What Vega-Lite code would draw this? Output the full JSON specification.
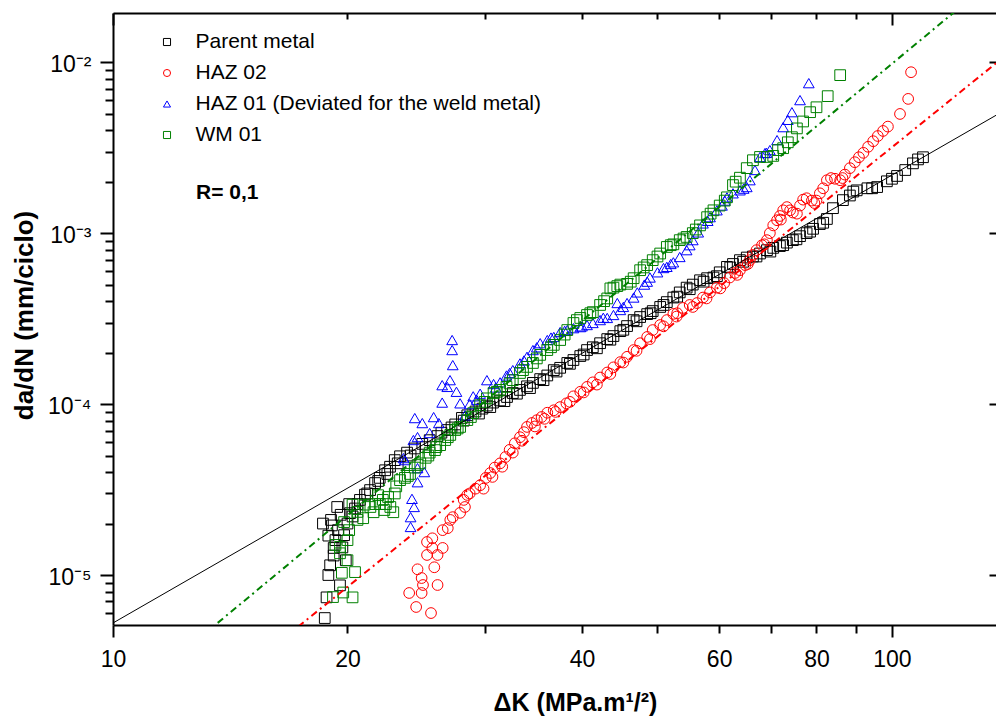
{
  "$schema": "https://vega.github.io/schema/vega-lite/v6.json",
  "width": 883,
  "height": 612,
  "autosize": {"type": "none"},
  "padding": {"left": 113, "top": 13, "right": 0, "bottom": 91},
  "background": "white",
  "config": {
    "view": {"stroke": null},
    "font": "Liberation Sans",
    "axis": {"labelFont": "Liberation Sans", "titleFont": "Liberation Sans", "domainColor": "black", "tickColor": "black", "labelColor": "black", "titleColor": "black", "grid": false, "domainWidth": 2, "tickWidth": 2}
  },
  "layer": [
    {
      "data": {"values": [
        {"s":"P","x":18.7,"y":5.6e-6},{"s":"P","x":18.8,"y":7.4e-6},{"s":"P","x":18.9,"y":1.0e-5},{"s":"P","x":19.0,"y":1.14e-5},{"s":"P","x":19.2,"y":1.44e-5},{"s":"P","x":18.6,"y":2.0e-5},{"s":"P","x":19.05,"y":2.1e-5},{"s":"P","x":19.4,"y":2.5e-5},{"s":"P","x":20.1,"y":2.6e-5},{"s":"P","x":19.45,"y":1.83e-5},{"s":"P","x":19.8,"y":1.71e-5},{"s":"P","x":19.3,"y":1.6e-5},{"s":"P","x":19.9,"y":1.22e-5},{"s":"P","x":19.56,"y":8.7e-6},{"s":"P","x":19.2,"y":1.3e-5},{"s":"P","x":19.1,"y":1.95e-5},{"s":"P","x":19.6,"y":2.25e-5},{"s":"P","x":18.9,"y":1.7e-5},{"s":"P","x":19.7,"y":1.45e-5},{"s":"P","x":20.0,"y":2.0e-5},{"s":"P","x":20.3,"y":2.2e-5},
        {"s":"P","x":20.15,"y":2.3e-5},{"s":"P","x":20.45,"y":2.45e-5},{"s":"P","x":20.75,"y":2.75e-5},{"s":"P","x":21.06,"y":2.95e-5},{"s":"P","x":21.38,"y":3.14e-5},{"s":"P","x":21.7,"y":3.45e-5},{"s":"P","x":22.0,"y":3.7e-5},{"s":"P","x":22.35,"y":4.1e-5},{"s":"P","x":22.68,"y":4.3e-5},{"s":"P","x":23.0,"y":4.7e-5},{"s":"P","x":23.36,"y":4.95e-5},{"s":"P","x":23.85,"y":5.2e-5},{"s":"P","x":24.4,"y":5.5e-5},{"s":"P","x":24.95,"y":5.85e-5},{"s":"P","x":25.5,"y":6.15e-5},{"s":"P","x":26.1,"y":6.5e-5},{"s":"P","x":26.85,"y":7.05e-5},{"s":"P","x":27.5,"y":7.6e-5},{"s":"P","x":28.05,"y":8.3e-5},{"s":"P","x":28.5,"y":8.6e-5},{"s":"P","x":29.2,"y":9.05e-5},{"s":"P","x":29.8,"y":9.4e-5},{"s":"P","x":30.2,"y":9.8e-5},{"s":"P","x":30.75,"y":1.02e-4},{"s":"P","x":31.4,"y":1.05e-4},{"s":"P","x":32.05,"y":1.1e-4},{"s":"P","x":32.6,"y":1.16e-4},{"s":"P","x":33.3,"y":1.21e-4},{"s":"P","x":34.0,"y":1.27e-4},{"s":"P","x":34.6,"y":1.33e-4},{"s":"P","x":35.35,"y":1.4e-4},{"s":"P","x":36.1,"y":1.47e-4},{"s":"P","x":36.8,"y":1.58e-4},{"s":"P","x":37.5,"y":1.63e-4},{"s":"P","x":38.3,"y":1.74e-4},{"s":"P","x":39.0,"y":1.81e-4},{"s":"P","x":39.8,"y":1.91e-4},{"s":"P","x":40.6,"y":2.07e-4},{"s":"P","x":41.3,"y":2.15e-4},{"s":"P","x":42.2,"y":2.27e-4},{"s":"P","x":43.1,"y":2.4e-4},{"s":"P","x":43.9,"y":2.5e-4},{"s":"P","x":44.8,"y":2.67e-4},{"s":"P","x":45.7,"y":2.86e-4},{"s":"P","x":46.6,"y":3.1e-4},{"s":"P","x":47.5,"y":3.23e-4},{"s":"P","x":48.5,"y":3.36e-4},{"s":"P","x":49.3,"y":3.5e-4},{"s":"P","x":50.4,"y":3.7e-4},{"s":"P","x":51.4,"y":3.95e-4},{"s":"P","x":52.4,"y":4.2e-4},{"s":"P","x":53.4,"y":4.5e-4},{"s":"P","x":54.5,"y":4.8e-4},{"s":"P","x":55.5,"y":5.0e-4},{"s":"P","x":56.7,"y":5.3e-4},{"s":"P","x":57.9,"y":5.45e-4},{"s":"P","x":59.0,"y":5.5e-4},{"s":"P","x":60.1,"y":5.9e-4},{"s":"P","x":61.4,"y":6.35e-4},{"s":"P","x":62.5,"y":6.6e-4},{"s":"P","x":63.8,"y":6.95e-4},{"s":"P","x":65.1,"y":7.2e-4},{"s":"P","x":66.3,"y":7.3e-4},{"s":"P","x":67.7,"y":7.6e-4},{"s":"P","x":69.1,"y":7.95e-4},{"s":"P","x":70.4,"y":8.2e-4},{"s":"P","x":71.8,"y":8.4e-4},{"s":"P","x":73.3,"y":8.8e-4},{"s":"P","x":74.6,"y":9.1e-4},{"s":"P","x":76.2,"y":9.6e-4},{"s":"P","x":77.7,"y":1.0e-3},{"s":"P","x":79.2,"y":1.06e-3},{"s":"P","x":80.8,"y":1.13e-3},{"s":"P","x":82.5,"y":1.21e-3},{"s":"P","x":84.0,"y":1.4e-3},{"s":"P","x":86.5,"y":1.56e-3},{"s":"P","x":88.3,"y":1.66e-3},{"s":"P","x":90.1,"y":1.78e-3},{"s":"P","x":93.0,"y":1.83e-3},{"s":"P","x":95.7,"y":1.86e-3},{"s":"P","x":98.5,"y":2.01e-3},{"s":"P","x":101.5,"y":2.16e-3},{"s":"P","x":104.0,"y":2.34e-3},{"s":"P","x":106.4,"y":2.56e-3},{"s":"P","x":109.6,"y":2.78e-3},
        {"s":"P","x":20.6,"y":2.6e-5},{"s":"P","x":21.2,"y":3.0e-5},{"s":"P","x":21.9,"y":3.55e-5},{"s":"P","x":22.5,"y":3.9e-5},{"s":"P","x":23.2,"y":4.5e-5},{"s":"P","x":24.1,"y":5.0e-5},{"s":"P","x":25.2,"y":5.6e-5},{"s":"P","x":26.4,"y":6.8e-5},{"s":"P","x":27.2,"y":7.3e-5},{"s":"P","x":28.2,"y":8.0e-5},{"s":"P","x":29.5,"y":8.8e-5},{"s":"P","x":30.5,"y":9.6e-5},{"s":"P","x":31.8,"y":1.04e-4},{"s":"P","x":33.0,"y":1.15e-4},{"s":"P","x":34.3,"y":1.24e-4},{"s":"P","x":35.7,"y":1.38e-4},{"s":"P","x":37.1,"y":1.55e-4},{"s":"P","x":38.6,"y":1.72e-4},{"s":"P","x":40.2,"y":1.95e-4},{"s":"P","x":41.8,"y":2.12e-4},{"s":"P","x":43.5,"y":2.38e-4},{"s":"P","x":45.2,"y":2.72e-4},{"s":"P","x":47.0,"y":3.05e-4},{"s":"P","x":49.0,"y":3.4e-4},{"s":"P","x":50.9,"y":3.8e-4},{"s":"P","x":53.0,"y":4.25e-4},{"s":"P","x":55.0,"y":4.7e-4},{"s":"P","x":57.3,"y":5.2e-4},{"s":"P","x":59.6,"y":5.6e-4},{"s":"P","x":62.0,"y":6.3e-4},{"s":"P","x":64.4,"y":6.8e-4},{"s":"P","x":67.0,"y":7.3e-4},{"s":"P","x":69.8,"y":7.8e-4},{"s":"P","x":72.5,"y":8.5e-4},{"s":"P","x":75.4,"y":9.2e-4},{"s":"P","x":78.5,"y":1.02e-3},{"s":"P","x":81.6,"y":1.15e-3},{"s":"P","x":89.2,"y":1.75e-3},{"s":"P","x":94.3,"y":1.83e-3},{"s":"P","x":100.0,"y":2.08e-3},{"s":"P","x":108.0,"y":2.7e-3},
        {"s":"H2","x":24.0,"y":7.85e-6},{"s":"H2","x":24.5,"y":6.5e-6},{"s":"H2","x":25.6,"y":5.99e-6},{"s":"H2","x":24.9,"y":7.85e-6},{"s":"H2","x":25.0,"y":8.74e-6},{"s":"H2","x":26.1,"y":8.74e-6},{"s":"H2","x":24.9,"y":9.6e-6},{"s":"H2","x":24.6,"y":1.08e-5},{"s":"H2","x":25.85,"y":1.11e-5},{"s":"H2","x":25.3,"y":1.31e-5},{"s":"H2","x":26.1,"y":1.31e-5},{"s":"H2","x":25.7,"y":1.44e-5},{"s":"H2","x":26.5,"y":1.44e-5},{"s":"H2","x":25.3,"y":1.56e-5},{"s":"H2","x":25.7,"y":1.64e-5},{"s":"H2","x":26.5,"y":1.83e-5},{"s":"H2","x":26.9,"y":1.88e-5},{"s":"H2","x":27.1,"y":2.1e-5},{"s":"H2","x":27.3,"y":2.18e-5},{"s":"H2","x":27.9,"y":2.31e-5},{"s":"H2","x":28.3,"y":2.5e-5},{"s":"H2","x":28.2,"y":2.75e-5},{"s":"H2","x":28.5,"y":2.94e-5},
        {"s":"H2","x":28.7,"y":3.0e-5},{"s":"H2","x":29.2,"y":3.2e-5},{"s":"H2","x":29.6,"y":3.35e-5},{"s":"H2","x":30.1,"y":3.7e-5},{"s":"H2","x":30.5,"y":3.95e-5},{"s":"H2","x":30.9,"y":4.25e-5},{"s":"H2","x":31.4,"y":4.5e-5},{"s":"H2","x":31.9,"y":4.9e-5},{"s":"H2","x":32.3,"y":5.4e-5},{"s":"H2","x":32.8,"y":5.9e-5},{"s":"H2","x":33.3,"y":6.4e-5},{"s":"H2","x":33.7,"y":6.85e-5},{"s":"H2","x":34.0,"y":7.35e-5},{"s":"H2","x":34.5,"y":7.75e-5},{"s":"H2","x":35.0,"y":8.05e-5},{"s":"H2","x":35.5,"y":8.4e-5},{"s":"H2","x":36.1,"y":8.9e-5},{"s":"H2","x":36.8,"y":9.2e-5},{"s":"H2","x":37.5,"y":9.6e-5},{"s":"H2","x":38.2,"y":1.01e-4},{"s":"H2","x":39.0,"y":1.11e-4},{"s":"H2","x":39.8,"y":1.18e-4},{"s":"H2","x":40.6,"y":1.26e-4},{"s":"H2","x":41.3,"y":1.34e-4},{"s":"H2","x":42.2,"y":1.43e-4},{"s":"H2","x":43.1,"y":1.53e-4},{"s":"H2","x":43.9,"y":1.64e-4},{"s":"H2","x":44.8,"y":1.76e-4},{"s":"H2","x":45.7,"y":1.89e-4},{"s":"H2","x":46.6,"y":2.07e-4},{"s":"H2","x":47.5,"y":2.27e-4},{"s":"H2","x":48.5,"y":2.47e-4},{"s":"H2","x":49.3,"y":2.71e-4},{"s":"H2","x":50.4,"y":2.9e-4},{"s":"H2","x":51.4,"y":3.1e-4},{"s":"H2","x":52.4,"y":3.37e-4},{"s":"H2","x":53.0,"y":3.4e-4},{"s":"H2","x":53.9,"y":3.65e-4},{"s":"H2","x":55.0,"y":3.8e-4},{"s":"H2","x":56.2,"y":3.9e-4},{"s":"H2","x":57.2,"y":4.2e-4},{"s":"H2","x":58.4,"y":4.5e-4},{"s":"H2","x":59.6,"y":4.8e-4},{"s":"H2","x":60.9,"y":5.1e-4},{"s":"H2","x":61.9,"y":5.5e-4},{"s":"H2","x":62.9,"y":5.85e-4},{"s":"H2","x":63.8,"y":6.07e-4},{"s":"H2","x":64.8,"y":6.5e-4},{"s":"H2","x":65.7,"y":6.95e-4},{"s":"H2","x":66.3,"y":7.45e-4},{"s":"H2","x":67.0,"y":7.95e-4},{"s":"H2","x":68.1,"y":8.5e-4},{"s":"H2","x":69.1,"y":9.1e-4},{"s":"H2","x":69.7,"y":1.0e-3},{"s":"H2","x":70.4,"y":1.11e-3},{"s":"H2","x":71.2,"y":1.19e-3},{"s":"H2","x":71.8,"y":1.26e-3},{"s":"H2","x":72.5,"y":1.36e-3},{"s":"H2","x":73.3,"y":1.42e-3},{"s":"H2","x":74.0,"y":1.36e-3},{"s":"H2","x":74.6,"y":1.32e-3},{"s":"H2","x":75.5,"y":1.3e-3},{"s":"H2","x":76.2,"y":1.45e-3},{"s":"H2","x":76.9,"y":1.57e-3},{"s":"H2","x":77.7,"y":1.6e-3},{"s":"H2","x":78.9,"y":1.55e-3},{"s":"H2","x":80.0,"y":1.55e-3},{"s":"H2","x":80.8,"y":1.71e-3},{"s":"H2","x":81.6,"y":1.83e-3},{"s":"H2","x":82.5,"y":2.04e-3},{"s":"H2","x":83.5,"y":2.1e-3},{"s":"H2","x":84.5,"y":2.08e-3},{"s":"H2","x":85.8,"y":2.04e-3},{"s":"H2","x":87.0,"y":2.2e-3},{"s":"H2","x":88.3,"y":2.4e-3},{"s":"H2","x":89.6,"y":2.6e-3},{"s":"H2","x":90.7,"y":2.78e-3},{"s":"H2","x":91.9,"y":2.95e-3},{"s":"H2","x":93.2,"y":3.2e-3},{"s":"H2","x":94.6,"y":3.45e-3},{"s":"H2","x":95.9,"y":3.7e-3},{"s":"H2","x":97.4,"y":3.96e-3},{"s":"H2","x":98.8,"y":4.2e-3},{"s":"H2","x":102.4,"y":4.98e-3},{"s":"H2","x":104.9,"y":6.1e-3},{"s":"H2","x":105.8,"y":8.74e-3},
        {"s":"H2","x":29.9,"y":3.2e-5},{"s":"H2","x":30.7,"y":3.75e-5},{"s":"H2","x":31.6,"y":4.3e-5},{"s":"H2","x":32.6,"y":5.2e-5},{"s":"H2","x":33.5,"y":6.1e-5},{"s":"H2","x":34.8,"y":7.4e-5},{"s":"H2","x":35.8,"y":8.2e-5},{"s":"H2","x":37.0,"y":9.0e-5},{"s":"H2","x":38.6,"y":1.03e-4},{"s":"H2","x":40.2,"y":1.17e-4},{"s":"H2","x":41.8,"y":1.3e-4},{"s":"H2","x":43.5,"y":1.5e-4},{"s":"H2","x":45.2,"y":1.75e-4},{"s":"H2","x":47.0,"y":2.05e-4},{"s":"H2","x":48.9,"y":2.4e-4},{"s":"H2","x":50.9,"y":2.85e-4},{"s":"H2","x":52.9,"y":3.25e-4},{"s":"H2","x":55.5,"y":3.7e-4},{"s":"H2","x":57.8,"y":4.15e-4},{"s":"H2","x":60.2,"y":4.75e-4},{"s":"H2","x":63.3,"y":5.7e-4},{"s":"H2","x":65.3,"y":6.6e-4},{"s":"H2","x":68.6,"y":8.6e-4},{"s":"H2","x":72.0,"y":1.2e-3},{"s":"H2","x":79.5,"y":1.5e-3},{"s":"H2","x":86.4,"y":2.1e-3},
        {"s":"H1","x":24.1,"y":1.91e-5},{"s":"H1","x":24.1,"y":2.18e-5},{"s":"H1","x":24.35,"y":2.5e-5},{"s":"H1","x":24.2,"y":2.79e-5},{"s":"H1","x":24.6,"y":3.49e-5},{"s":"H1","x":25.1,"y":4.0e-5},{"s":"H1","x":23.7,"y":4.7e-5},{"s":"H1","x":24.6,"y":4.22e-5},{"s":"H1","x":23.6,"y":4.83e-5},{"s":"H1","x":24.3,"y":6.16e-5},{"s":"H1","x":24.6,"y":6.41e-5},{"s":"H1","x":25.5,"y":6.77e-5},{"s":"H1","x":24.4,"y":8.28e-5},{"s":"H1","x":24.95,"y":7.74e-5},{"s":"H1","x":25.8,"y":8.39e-5},{"s":"H1","x":26.2,"y":7.74e-5},{"s":"H1","x":26.46,"y":1.02e-4},{"s":"H1","x":26.46,"y":1.29e-4},{"s":"H1","x":26.86,"y":1.26e-4},{"s":"H1","x":27.08,"y":1.38e-4},{"s":"H1","x":27.6,"y":1.18e-4},{"s":"H1","x":27.3,"y":1.69e-4},{"s":"H1","x":27.25,"y":2.07e-4},{"s":"H1","x":27.25,"y":2.37e-4},{"s":"H1","x":27.9,"y":1.01e-4},
        {"s":"H1","x":28.3,"y":8.6e-5},{"s":"H1","x":29.0,"y":1.11e-4},{"s":"H1","x":29.6,"y":1.15e-4},{"s":"H1","x":30.2,"y":1.38e-4},{"s":"H1","x":30.8,"y":1.31e-4},{"s":"H1","x":31.4,"y":1.34e-4},{"s":"H1","x":32.0,"y":1.47e-4},{"s":"H1","x":32.6,"y":1.58e-4},{"s":"H1","x":33.3,"y":1.73e-4},{"s":"H1","x":34.0,"y":1.89e-4},{"s":"H1","x":34.6,"y":2.07e-4},{"s":"H1","x":35.35,"y":2.27e-4},{"s":"H1","x":36.1,"y":2.37e-4},{"s":"H1","x":36.8,"y":2.47e-4},{"s":"H1","x":37.5,"y":2.64e-4},{"s":"H1","x":38.3,"y":2.71e-4},{"s":"H1","x":39.0,"y":2.78e-4},{"s":"H1","x":39.8,"y":2.82e-4},{"s":"H1","x":40.6,"y":2.9e-4},{"s":"H1","x":41.3,"y":2.98e-4},{"s":"H1","x":42.2,"y":3.1e-4},{"s":"H1","x":43.1,"y":3.19e-4},{"s":"H1","x":43.9,"y":3.32e-4},{"s":"H1","x":44.4,"y":3.9e-4},{"s":"H1","x":44.8,"y":3.55e-4},{"s":"H1","x":45.7,"y":3.9e-4},{"s":"H1","x":46.6,"y":4.2e-4},{"s":"H1","x":47.1,"y":4.5e-4},{"s":"H1","x":48.1,"y":5.0e-4},{"s":"H1","x":48.9,"y":5.5e-4},{"s":"H1","x":50.0,"y":5.9e-4},{"s":"H1","x":50.9,"y":6.25e-4},{"s":"H1","x":51.4,"y":6.35e-4},{"s":"H1","x":52.4,"y":6.75e-4},{"s":"H1","x":53.4,"y":7.25e-4},{"s":"H1","x":54.5,"y":7.95e-4},{"s":"H1","x":55.5,"y":9.1e-4},{"s":"H1","x":56.4,"y":1.01e-3},{"s":"H1","x":57.2,"y":1.14e-3},{"s":"H1","x":58.4,"y":1.24e-3},{"s":"H1","x":59.6,"y":1.36e-3},{"s":"H1","x":60.5,"y":1.45e-3},{"s":"H1","x":61.4,"y":1.62e-3},{"s":"H1","x":62.5,"y":1.71e-3},{"s":"H1","x":63.8,"y":1.78e-3},{"s":"H1","x":65.1,"y":1.86e-3},{"s":"H1","x":65.7,"y":2.04e-3},{"s":"H1","x":66.7,"y":2.34e-3},{"s":"H1","x":67.7,"y":2.79e-3},{"s":"H1","x":68.7,"y":2.94e-3},{"s":"H1","x":69.7,"y":3.06e-3},{"s":"H1","x":71.2,"y":3.5e-3},{"s":"H1","x":72.5,"y":4.17e-3},{"s":"H1","x":74.4,"y":5.1e-3},{"s":"H1","x":76.2,"y":6.0e-3},{"s":"H1","x":78.2,"y":7.54e-3},
        {"s":"H1","x":28.7,"y":1.0e-4},{"s":"H1","x":29.3,"y":1.06e-4},{"s":"H1","x":31.0,"y":1.25e-4},{"s":"H1","x":32.3,"y":1.52e-4},{"s":"H1","x":33.7,"y":1.8e-4},{"s":"H1","x":35.0,"y":2.15e-4},{"s":"H1","x":36.5,"y":2.45e-4},{"s":"H1","x":38.0,"y":2.68e-4},{"s":"H1","x":40.0,"y":2.85e-4},{"s":"H1","x":42.6,"y":3.2e-4},{"s":"H1","x":45.2,"y":3.7e-4},{"s":"H1","x":48.5,"y":5.2e-4},{"s":"H1","x":52.0,"y":6.6e-4},{"s":"H1","x":55.0,"y":8.5e-4},{"s":"H1","x":58.0,"y":1.18e-3},{"s":"H1","x":61.0,"y":1.55e-3},{"s":"H1","x":64.5,"y":1.82e-3},{"s":"H1","x":69.0,"y":2.95e-3},{"s":"H1","x":73.5,"y":4.6e-3},
        {"s":"W","x":19.16,"y":7.43e-6},{"s":"W","x":19.75,"y":7.9e-6},{"s":"W","x":20.3,"y":7.4e-6},{"s":"W","x":19.67,"y":1.03e-5},{"s":"W","x":20.45,"y":1.04e-5},{"s":"W","x":19.56,"y":1.34e-5},{"s":"W","x":20.0,"y":1.22e-5},{"s":"W","x":19.56,"y":1.46e-5},{"s":"W","x":20.0,"y":1.6e-5},{"s":"W","x":19.3,"y":1.5e-5},{"s":"W","x":20.1,"y":1.83e-5},{"s":"W","x":19.8,"y":2.04e-5},{"s":"W","x":20.6,"y":2.1e-5},{"s":"W","x":20.95,"y":2.15e-5},{"s":"W","x":20.3,"y":2.58e-5},{"s":"W","x":20.6,"y":2.34e-5},{"s":"W","x":21.05,"y":2.58e-5},{"s":"W","x":21.4,"y":2.5e-5},{"s":"W","x":21.7,"y":2.6e-5},{"s":"W","x":22.0,"y":2.6e-5},{"s":"W","x":22.3,"y":2.4e-5},{"s":"W","x":22.7,"y":2.5e-5},{"s":"W","x":22.9,"y":2.33e-5},{"s":"W","x":21.6,"y":2.33e-5},{"s":"W","x":22.2,"y":2.75e-5},{"s":"W","x":21.9,"y":2.93e-5},{"s":"W","x":22.55,"y":2.86e-5},{"s":"W","x":23.0,"y":3.0e-5},
        {"s":"W","x":23.36,"y":3.59e-5},{"s":"W","x":23.7,"y":3.7e-5},{"s":"W","x":24.06,"y":3.9e-5},{"s":"W","x":24.4,"y":4.25e-5},{"s":"W","x":24.8,"y":4.5e-5},{"s":"W","x":25.2,"y":4.85e-5},{"s":"W","x":25.5,"y":5.2e-5},{"s":"W","x":25.9,"y":5.38e-5},{"s":"W","x":26.3,"y":5.75e-5},{"s":"W","x":26.7,"y":6.16e-5},{"s":"W","x":27.1,"y":6.6e-5},{"s":"W","x":27.5,"y":7.05e-5},{"s":"W","x":27.9,"y":7.35e-5},{"s":"W","x":28.5,"y":8.06e-5},{"s":"W","x":29.0,"y":8.85e-5},{"s":"W","x":29.6,"y":9.85e-5},{"s":"W","x":30.2,"y":1.08e-4},{"s":"W","x":30.8,"y":1.16e-4},{"s":"W","x":31.4,"y":1.21e-4},{"s":"W","x":32.0,"y":1.26e-4},{"s":"W","x":32.6,"y":1.38e-4},{"s":"W","x":33.3,"y":1.52e-4},{"s":"W","x":34.0,"y":1.65e-4},{"s":"W","x":34.6,"y":1.74e-4},{"s":"W","x":35.35,"y":1.94e-4},{"s":"W","x":36.1,"y":2.07e-4},{"s":"W","x":36.8,"y":2.22e-4},{"s":"W","x":37.5,"y":2.37e-4},{"s":"W","x":38.3,"y":2.71e-4},{"s":"W","x":39.0,"y":2.98e-4},{"s":"W","x":39.8,"y":3.19e-4},{"s":"W","x":40.6,"y":3.32e-4},{"s":"W","x":41.3,"y":3.45e-4},{"s":"W","x":42.2,"y":3.8e-4},{"s":"W","x":43.1,"y":4.15e-4},{"s":"W","x":43.5,"y":4.75e-4},{"s":"W","x":43.9,"y":4.8e-4},{"s":"W","x":44.8,"y":5.0e-4},{"s":"W","x":45.7,"y":5.05e-4},{"s":"W","x":46.6,"y":5.45e-4},{"s":"W","x":47.5,"y":6.07e-4},{"s":"W","x":48.5,"y":6.5e-4},{"s":"W","x":49.3,"y":6.95e-4},{"s":"W","x":50.4,"y":7.6e-4},{"s":"W","x":51.4,"y":8.3e-4},{"s":"W","x":52.4,"y":8.6e-4},{"s":"W","x":53.4,"y":9.1e-4},{"s":"W","x":54.5,"y":9.5e-4},{"s":"W","x":55.5,"y":1.0e-3},{"s":"W","x":56.7,"y":1.11e-3},{"s":"W","x":57.9,"y":1.24e-3},{"s":"W","x":59.0,"y":1.36e-3},{"s":"W","x":60.1,"y":1.45e-3},{"s":"W","x":61.4,"y":1.62e-3},{"s":"W","x":62.5,"y":1.91e-3},{"s":"W","x":63.8,"y":2.11e-3},{"s":"W","x":65.1,"y":2.4e-3},{"s":"W","x":66.3,"y":2.67e-3},{"s":"W","x":67.7,"y":2.79e-3},{"s":"W","x":69.1,"y":2.79e-3},{"s":"W","x":70.4,"y":2.83e-3},{"s":"W","x":71.4,"y":3.06e-3},{"s":"W","x":72.5,"y":3.14e-3},{"s":"W","x":73.5,"y":3.4e-3},{"s":"W","x":74.4,"y":3.64e-3},{"s":"W","x":75.5,"y":4.1e-3},{"s":"W","x":76.9,"y":4.5e-3},{"s":"W","x":78.5,"y":5.1e-3},{"s":"W","x":80.0,"y":5.45e-3},{"s":"W","x":82.7,"y":6.33e-3},{"s":"W","x":85.8,"y":8.4e-3},
        {"s":"W","x":22.4,"y":2.6e-5},{"s":"W","x":23.1,"y":3.3e-5},{"s":"W","x":23.9,"y":3.8e-5},{"s":"W","x":24.6,"y":4.4e-5},{"s":"W","x":25.4,"y":5.0e-5},{"s":"W","x":26.0,"y":5.6e-5},{"s":"W","x":26.9,"y":6.4e-5},{"s":"W","x":27.7,"y":7.2e-5},{"s":"W","x":28.8,"y":8.4e-5},{"s":"W","x":30.0,"y":1.03e-4},{"s":"W","x":31.1,"y":1.18e-4},{"s":"W","x":32.3,"y":1.32e-4},{"s":"W","x":33.6,"y":1.58e-4},{"s":"W","x":35.0,"y":1.85e-4},{"s":"W","x":36.5,"y":2.15e-4},{"s":"W","x":38.0,"y":2.55e-4},{"s":"W","x":39.4,"y":3.1e-4},{"s":"W","x":41.0,"y":3.4e-4},{"s":"W","x":42.7,"y":4.0e-4},{"s":"W","x":44.4,"y":4.9e-4},{"s":"W","x":46.2,"y":5.2e-4},{"s":"W","x":48.0,"y":6.3e-4},{"s":"W","x":50.0,"y":7.3e-4},{"s":"W","x":52.0,"y":8.5e-4},{"s":"W","x":54.0,"y":9.3e-4},{"s":"W","x":56.0,"y":1.05e-3},{"s":"W","x":58.5,"y":1.3e-3},{"s":"W","x":61.0,"y":1.55e-3},{"s":"W","x":63.0,"y":2.0e-3}
      ]},
      "mark": {"type": "point", "filled": false, "strokeWidth": 1, "size": 115, "clip": true, "opacity": 1},
      "encoding": {
        "x": {"field": "x", "type": "quantitative",
          "scale": {"type": "log", "domain": [10, 136], "nice": false},
          "axis": {"orient": "bottom", "values": [10, 20, 30, 40, 50, 60, 70, 80, 90, 100], "format": "d",
            "labelExpr": "(datum.value == 30 || datum.value == 50 || datum.value == 70 || datum.value == 90) ? '' : datum.label",
            "labelFontSize": 23, "labelFlush": false, "labelOverlap": false, "labelBaseline": "top",
            "tickSize": {"condition": {"test": "datum.value == 10 || datum.value == 100", "value": 12}, "value": 8},
            "labelPadding": {"condition": {"test": "datum.value == 10 || datum.value == 100", "value": 11}, "value": 15},
            "title": "ΔK (MPa.m¹/²)", "titleFontSize": 25, "titleFontWeight": "bold",
            "titleX": 462, "titleY": 85, "titleBaseline": "alphabetic", "titleAlign": "center"}},
        "y": {"field": "y", "type": "quantitative",
          "scale": {"type": "log", "domain": [5.1e-6, 0.0194], "nice": false},
          "axis": {"orient": "left",
            "values": [6e-6, 7e-6, 8e-6, 9e-6, 1e-5, 2e-5, 3e-5, 4e-5, 5e-5, 6e-5, 7e-5, 8e-5, 9e-5, 1e-4, 2e-4, 3e-4, 4e-4, 5e-4, 6e-4, 7e-4, 8e-4, 9e-4, 1e-3, 2e-3, 3e-3, 4e-3, 5e-3, 6e-3, 7e-3, 8e-3, 9e-3, 1e-2],
            "labelExpr": "datum.value > 0.0099 && datum.value < 0.0101 ? '10⁻²' : datum.value > 0.00099 && datum.value < 0.00101 ? '10⁻³' : datum.value > 0.000099 && datum.value < 0.000101 ? '10⁻⁴' : datum.value > 0.0000099 && datum.value < 0.0000101 ? '10⁻⁵' : ''",
            "labelFontSize": 23, "labelOverlap": false, "labelFlush": false, "labelPadding": 9, "labelOffset": 2,
            "tickSize": {"condition": {"test": "abs(log(datum.value) / LN10 - round(log(datum.value) / LN10)) < 0.001", "value": 13}, "value": 8},
            "title": "da/dN (mm/ciclo)", "titleFontSize": 26, "titleFontWeight": "bold",
            "titleX": -89, "titleY": 302, "titleAngle": -90, "titleBaseline": "middle", "titleAlign": "center"}},
        "color": {"field": "s", "type": "nominal",
          "scale": {"domain": ["P", "H2", "H1", "W"], "range": ["#000000", "#ff0000", "#0000ff", "#008000"]},
          "legend": {"orient": "none", "legendX": 43.5, "legendY": 18.5, "title": null, "labelFontSize": 21, "labelFont": "Liberation Sans", "labelColor": "black", "symbolSize": 50, "symbolStrokeWidth": 1, "labelOffset": 18, "rowPadding": 9, "padding": 0, "labelLimit": 0,
            "labelExpr": "datum.label == 'P' ? 'Parent metal' : datum.label == 'H2' ? 'HAZ 02' : datum.label == 'H1' ? 'HAZ 01 (Deviated for the weld metal)' : 'WM 01'"}},
        "shape": {"field": "s", "type": "nominal",
          "scale": {"domain": ["P", "H2", "H1", "W"], "range": ["square", "circle", "triangle-up", "square"]},
          "legend": {"orient": "none", "legendX": 43.5, "legendY": 18.5, "title": null, "labelFontSize": 21, "labelFont": "Liberation Sans", "labelColor": "black", "symbolSize": 50, "symbolStrokeWidth": 1, "labelOffset": 18, "rowPadding": 9, "padding": 0, "labelLimit": 0,
            "labelExpr": "datum.label == 'P' ? 'Parent metal' : datum.label == 'H2' ? 'HAZ 02' : datum.label == 'H1' ? 'HAZ 01 (Deviated for the weld metal)' : 'WM 01'"}}
      }
    },
    {
      "data": {"values": [{"x": 10, "y": 5.24e-6}, {"x": 136, "y": 4.89e-3}]},
      "mark": {"type": "line", "color": "black", "strokeWidth": 1, "clip": true},
      "encoding": {
        "x": {"field": "x", "type": "quantitative", "scale": {"type": "log", "domain": [10, 136], "nice": false},
          "axis": {"orient": "top", "values": [10, 20, 30, 40, 50, 60, 70, 80, 90, 100], "labels": false, "title": null, "domain": true,
            "tickSize": {"condition": {"test": "datum.value == 10 || datum.value == 100", "value": -12}, "value": -6}}},
        "y": {"field": "y", "type": "quantitative", "scale": {"type": "log", "domain": [5.1e-6, 0.0194], "nice": false},
          "axis": {"orient": "right", "values": [1e-5, 1e-4, 1e-3, 1e-2], "labels": false, "title": null, "domain": false, "tickSize": -7}}
      }
    },
    {
      "data": {"values": [{"x": 10, "y": 1.63e-6}, {"x": 136, "y": 3.13e-2}]},
      "mark": {"type": "line", "color": "#008000", "strokeWidth": 2, "strokeDash": [7, 4, 2, 4], "clip": true},
      "encoding": {
        "x": {"field": "x", "type": "quantitative", "axis": null},
        "y": {"field": "y", "type": "quantitative", "axis": null}
      }
    },
    {
      "data": {"values": [{"x": 10, "y": 6.65e-7}, {"x": 136, "y": 9.86e-3}]},
      "mark": {"type": "line", "color": "#ff0000", "strokeWidth": 2, "strokeDash": [7, 4, 2, 4], "clip": true},
      "encoding": {
        "x": {"field": "x", "type": "quantitative", "axis": null},
        "y": {"field": "y", "type": "quantitative", "axis": null}
      }
    },
    {
      "data": {"values": [{"label": "R= 0,1"}]},
      "mark": {"type": "text", "align": "left", "baseline": "middle", "fontSize": 21, "fontWeight": "bold", "font": "Liberation Sans", "color": "black"},
      "encoding": {
        "text": {"field": "label", "type": "nominal"},
        "x": {"datum": 12.78, "type": "quantitative", "axis": null},
        "y": {"datum": 0.00171, "type": "quantitative", "axis": null}
      }
    }
  ],
  "resolve": {"axis": {"x": "independent", "y": "independent"}}
}
